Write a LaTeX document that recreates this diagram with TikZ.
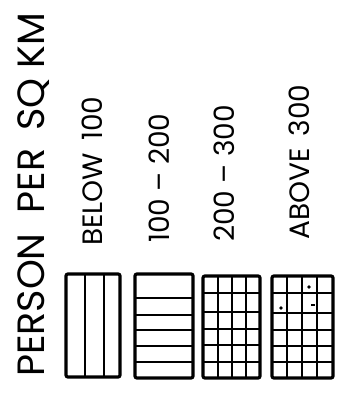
\documentclass[tikz,border=0pt]{standalone}
\usepackage{fontspec}
\setmainfont{Poppins}
\begin{document}
\begin{tikzpicture}[x=1pt,y=-1pt,
  outer/.style={line width=3.2pt,rounded corners=2pt},
  inner/.style={line width=2.1pt},
  lab/.style={rotate=90,anchor=base west,inner sep=0pt,font=\fontsize{28}{28}\selectfont},
  ttl/.style={rotate=90,anchor=base west,inner sep=0pt,font=\fontsize{38}{38}\selectfont}]
\useasboundingbox (0,0) rectangle (342,394);
\node[ttl] (title) at (44,377) {PERSON\hspace{20pt}PER\hspace{18pt}SQ\hspace{10pt}KM};
\node[lab] (l1) at (102,246) {BELOW\hspace{12pt}100};
\node[lab] (l2) at (169,243) {100 – 200};
\node[lab] (l3) at (234,242) {200 – 300};
\node[lab] (l4) at (309,240) {ABOVE\hspace{12pt}300};
% box 1
\draw[inner] (85,274) -- (85,377) (104,274) -- (104,377);
\draw[outer] (66,274) rectangle (120,377);
% box 2
\foreach \y in {298,315,330,346,362} \draw[inner] (135,\y) -- (193,\y);
\draw[outer] (135,274) rectangle (193,378);
% box 3
\foreach \x in {218,232,246} \draw[inner] (\x,276) -- (\x,378);
\foreach \y in {293,312,329,345,362} \draw[inner] (203,\y) -- (260,\y);
\draw[outer] (203,276) rectangle (260,378);
% box 4
\foreach \x in {287,302,317} \draw[inner] (\x,276) -- (\x,378);
\foreach \y in {293,313,330,346,362} \draw[inner] (272,\y) -- (333,\y);
\draw[outer] (272,276) rectangle (333,378);
\fill (309,287) circle (1.8pt) (281,308) circle (1.8pt);
\draw[line width=1.6pt] (311,305) -- (315,305);
\end{tikzpicture}
\end{document}
